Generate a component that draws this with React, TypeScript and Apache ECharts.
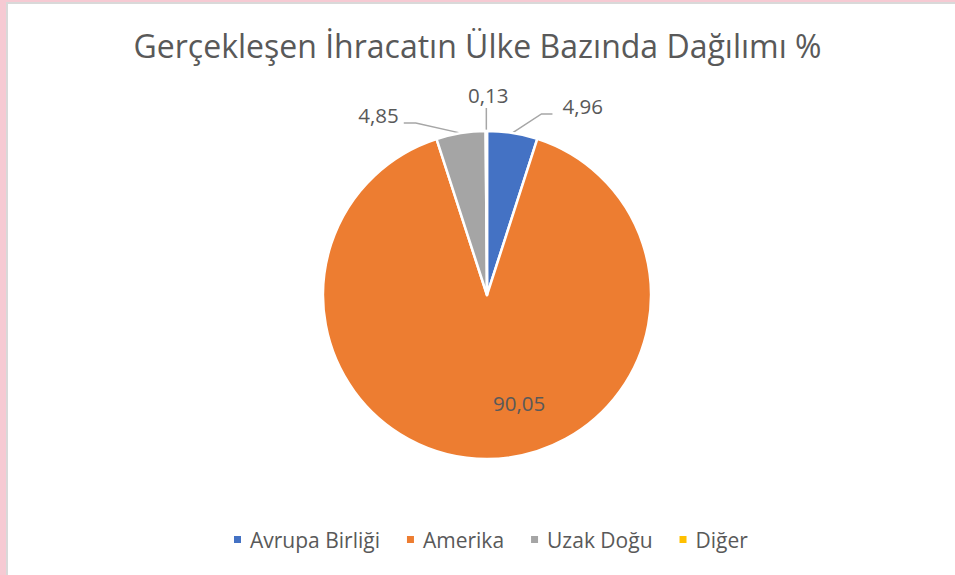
import React, { useEffect, useRef } from "react";
import * as echarts from "echarts";

const titleText = "Gerçekleşen İhracatın Ülke Bazında Dağılımı %";
const categories = ["Avrupa Birliği", "Amerika", "Uzak Doğu", "Diğer"];
const values = [4.96, 90.05, 4.85, 0.13];
const colors = ["#4472c4", "#ed7d31", "#a5a5a5", "#ffc000"];

export default function App() {
  const ref = useRef<HTMLDivElement>(null);
  useEffect(() => {
    document.body.style.margin = "0";
    if (!ref.current) return;
    const chart = echarts.init(ref.current, undefined, { renderer: "svg" });
    const font = "'Open Sans', 'Noto Sans', sans-serif";
    chart.setOption({
      animation: false,
      color: colors,
      title: {
        text: titleText,
        left: "center",
        top: 24,
        textStyle: { fontSize: 32, fontWeight: "normal", color: "#595959", fontFamily: font },
      },
      legend: {
        bottom: 20,
        left: 227,
        itemWidth: 9,
        itemHeight: 9,
        itemGap: 25,
        icon: "rect",
        textStyle: { fontSize: 21, color: "#595959", fontFamily: font, padding: [0, 0, 0, 3] },
        data: categories,
      },
      series: [
        {
          type: "pie",
          center: [487, 295],
          radius: 164,
          startAngle: 90,
          clockwise: true,
          avoidLabelOverlap: false,
          itemStyle: { borderColor: "#ffffff", borderWidth: 2.5 },
          label: {
            show: true,
            position: "outside",
            fontSize: 20.5,
            color: "#595959",
            fontFamily: font,
            formatter: (p: any) => String(p.value).replace(".", ","),
          },
          labelLine: { show: true, length: 15, length2: 15, lineStyle: { color: "#a6a6a6", width: 1.5 } },
          labelLayout: (p: any) => {
            const pts = p.labelLinePoints;
            if (!pts) return {};
            const s = pts[0];
            if (p.dataIndex === 0) {
              return {
                x: s[0] + 50,
                y: s[1] - 27,
                align: "left",
                verticalAlign: "middle",
                labelLinePoints: [s, [s[0] + 29, s[1] - 19], [s[0] + 40, s[1] - 19]],
              };
            }
            if (p.dataIndex === 2) {
              return {
                x: s[0] - 62,
                y: s[1] - 18,
                align: "right",
                verticalAlign: "middle",
                labelLinePoints: [s, [s[0] - 45, s[1] - 10], [s[0] - 57, s[1] - 10]],
              };
            }
            if (p.dataIndex === 3) {
              return {
                x: s[0] + 2,
                y: s[1] - 36,
                align: "center",
                verticalAlign: "middle",
                labelLinePoints: [s, [s[0], s[1] - 23], [s[0], s[1] - 23]],
              };
            }
            return {};
          },
          data: categories.map((name, i) => ({
            name,
            value: values[i],
            ...(i === 1
              ? { label: { position: "inside", offset: [32, 23] }, labelLine: { show: false } }
              : {}),
          })),
        },
      ],
    });
    return () => chart.dispose();
  }, []);
  return (
    <div style={{ position: "absolute", left: 0, top: 0, width: 955, height: 575, background: "#f6cad3", overflow: "hidden" }}>
      <div style={{ position: "absolute", left: 6, top: 2, width: 949, height: 573, background: "#ffffff", borderLeft: "2px solid #d9d9d9", borderTop: "2px solid #d9d9d9", boxSizing: "border-box" }} />
      <div ref={ref} style={{ position: "absolute", left: 0, top: 0, width: 955, height: 575 }} />
    </div>
  );
}
